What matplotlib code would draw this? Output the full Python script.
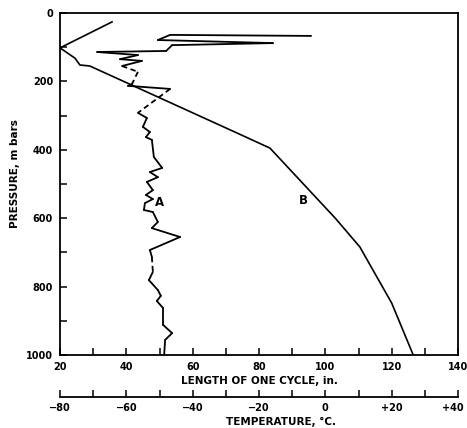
import matplotlib
matplotlib.use("Agg")
from matplotlib import pyplot as plt
from matplotlib.ticker import MultipleLocator, FuncFormatter
from matplotlib.transforms import ScaledTranslation

# curve A: length of one cycle (in.) vs pressure (mb)
a_length = [95.7, 53.2, 49.5, 84.2, 53.8, 52.0, 31.2, 43.5, 38.1, 44.7, 38.7,
            43.5, 41.7, 40.5, 53.2, 43.5,
            46.2, 45.0, 47.1, 45.9, 47.7, 48.3, 50.8, 47.1, 49.5, 46.2, 48.0,
            45.9, 48.0, 45.6, 45.3, 48.0, 49.5, 47.7, 56.2, 47.1, 47.7, 48.0,
            46.8, 49.5, 50.4, 49.2, 51.1, 51.1, 53.8, 51.7, 51.4]
a_pressure = [67, 64, 79, 88, 94, 111, 114, 123, 135, 140, 155,
              172, 208, 213, 222, 292,
              307, 333, 348, 363, 371, 421, 453, 465, 480, 494, 518,
              532, 544, 556, 576, 582, 611, 629, 655, 693, 713, 757,
              781, 810, 827, 842, 863, 912, 936, 956, 1000]
# segments of A (start index) that are drawn dashed
a_dashed = [10, 11, 14, 36]

# curve B
b_length = [35.7, 20.0, 24.5, 26.0, 29.0, 74.3, 83.3, 103.0, 110.4, 120.0, 126.5]
b_pressure = [26, 102, 132, 152, 155, 355, 395, 600, 684, 848, 1000]

fig = plt.figure(figsize=(4.67, 4.28), dpi=100)
W, H = 467.0, 428.0
ax = fig.add_axes([60 / W, 1 - 355 / H, 398 / W, 342 / H])

for i in range(len(a_length) - 1):
    ls = (0, (3, 2)) if i in a_dashed else "-"
    ax.plot(a_length[i:i + 2], a_pressure[i:i + 2], color="black", lw=1.3,
            ls=ls, solid_capstyle="round")
ax.plot(b_length, b_pressure, color="black", lw=1.2)

ax.text(50.1, 553, "A", fontsize=8.5, fontweight="bold", ha="center", va="center")
ax.text(93.3, 547, "B", fontsize=8.5, fontweight="bold", ha="center", va="center")

ax.set_xlim(20, 140)
ax.set_ylim(1000, 0)
ax.xaxis.set_major_locator(MultipleLocator(10))
ax.xaxis.set_major_formatter(FuncFormatter(lambda v, _: "%d" % v if int(round(v)) % 20 == 0 else ""))
ax.yaxis.set_major_locator(MultipleLocator(100))
ax.yaxis.set_major_formatter(FuncFormatter(lambda v, _: "%d" % v if int(round(v)) % 200 == 0 else ""))
ax.tick_params(direction="in", length=5, width=1.1, labelsize=7, pad=5)
for lab in ax.get_xticklabels() + ax.get_yticklabels():
    lab.set_fontweight("bold")
for s in ax.spines.values():
    s.set_linewidth(1.3)

ax.set_xlabel("LENGTH OF ONE CYCLE, in.", fontsize=7.5, fontweight="bold", labelpad=3)
ax.set_ylabel("PRESSURE, m bars", fontsize=7.5, fontweight="bold", labelpad=4)
ax.yaxis.set_label_coords(-0.1, 0.53)

# temperature scale under the length scale
tax = fig.add_axes([60 / W, 1 - 397 / H, 398 / W, 0.0001])
tax.set_xlim(-80, 40)
tax.set_yticks([])
for k in ["left", "right", "top"]:
    tax.spines[k].set_visible(False)
tax.spines["bottom"].set_linewidth(1.3)
tax.patch.set_visible(False)
tax.xaxis.set_major_locator(MultipleLocator(10))
tax.xaxis.set_major_formatter(FuncFormatter(
    lambda v, _: ("+%d" % v if v > 0 else "\u2212%d" % -v if v < 0 else "0") if int(round(v)) % 20 == 0 else ""))
tax.tick_params(direction="in", length=5, width=1.1, labelsize=7, pad=4)
fig.canvas.draw()
for lab in tax.get_xticklabels():
    lab.set_fontweight("bold")
    if lab.get_text() == "+40":
        lab.set_transform(lab.get_transform() + ScaledTranslation(-4 / 72, 0, fig.dpi_scale_trans))
fig.text(281 / W, 1 - 422 / H, "TEMPERATURE, \u00b0C.", fontsize=7.5, fontweight="bold",
         ha="center", va="center")

fig.savefig("out.png", dpi=100)
